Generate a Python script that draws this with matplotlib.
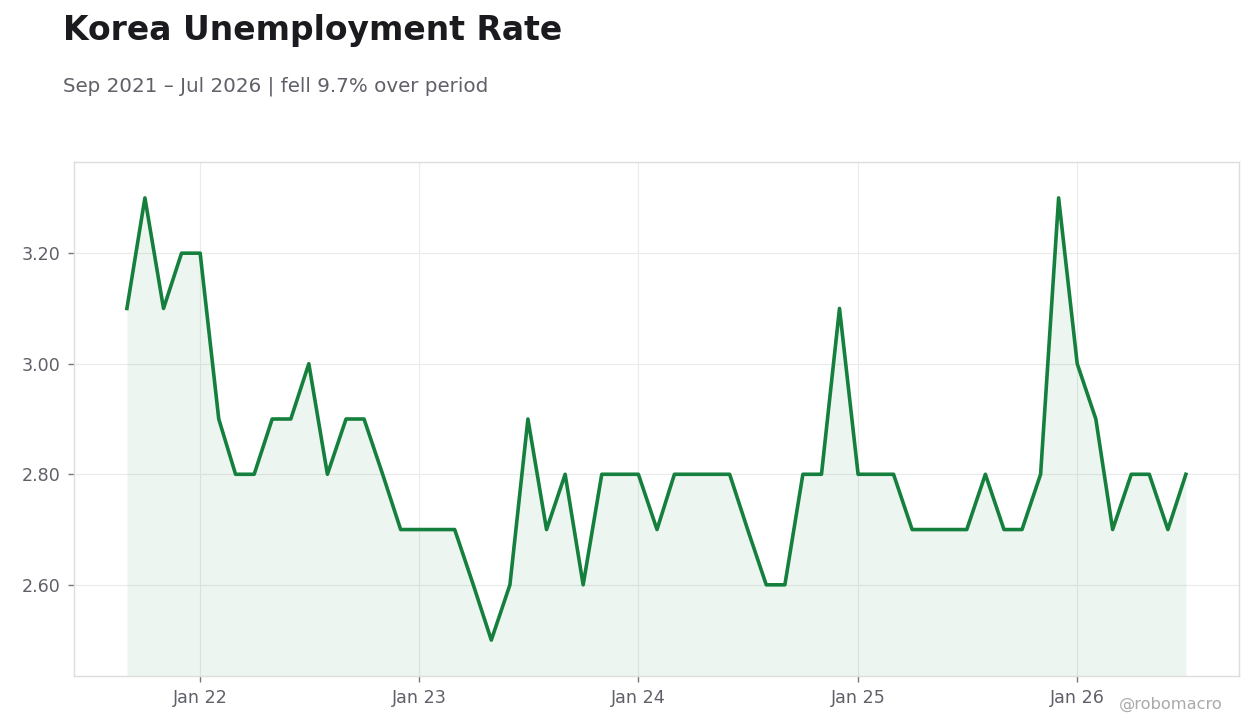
import pandas as pd
import matplotlib
matplotlib.use("Agg")
import matplotlib.pyplot as plt
import matplotlib.dates as mdates
from matplotlib.ticker import FormatStrFormatter

# monthly unemployment rate, Sep 2021 .. Jul 2026
dates = pd.date_range("2021-09-01", "2026-07-01", freq="MS")
rates = [
    3.1, 3.3, 3.1, 3.2,                                            # 2021 Sep-Dec
    3.2, 2.9, 2.8, 2.8, 2.9, 2.9, 3.0, 2.8, 2.9, 2.9, 2.8, 2.7,    # 2022
    2.7, 2.7, 2.7, 2.6, 2.5, 2.6, 2.9, 2.7, 2.8, 2.6, 2.8, 2.8,    # 2023
    2.8, 2.7, 2.8, 2.8, 2.8, 2.8, 2.7, 2.6, 2.6, 2.8, 2.8, 3.1,    # 2024
    2.8, 2.8, 2.8, 2.7, 2.7, 2.7, 2.7, 2.8, 2.7, 2.7, 2.8, 3.3,    # 2025
    3.0, 2.9, 2.7, 2.8, 2.8, 2.7, 2.8,                             # 2026 Jan-Jul
]

title = "Korea Unemployment Rate"
subtitle = "Sep 2021 \u2013 Jul 2026 | fell 9.7% over period"
credit = "@robomacro"

line_color = "#15803d"
y_bottom, y_top = 2.435, 3.365

fig = plt.figure(figsize=(12.6, 7.28), dpi=100)
ax = fig.add_axes([0.0587, 0.0714, 0.9245, 0.7061])

ax.plot(dates, rates, color=line_color, lw=2.6, zorder=3)
ax.fill_between(dates, rates, y_bottom, color=line_color, alpha=0.08, lw=0, zorder=2)

ax.set_ylim(y_bottom, y_top)
ax.margins(x=0.05)
ax.set_yticks([2.6, 2.8, 3.0, 3.2])
ax.yaxis.set_major_formatter(FormatStrFormatter("%.2f"))
ax.xaxis.set_major_locator(mdates.YearLocator())
ax.xaxis.set_major_formatter(mdates.DateFormatter("Jan %y"))

ax.grid(True, color="#ebebeb", lw=0.8, zorder=0)
for s in ax.spines.values():
    s.set_color("#dddddd")
    s.set_linewidth(1.0)
ax.tick_params(axis="both", colors="#5f6068", labelsize=12.6, length=4, width=1)
ax.tick_params(axis="x", pad=5)
ax.tick_params(axis="y", pad=5.5)
ax.tick_params(axis="both", color="#777777")

fig.text(0.05, 0.958, title, fontsize=23.8, fontweight="bold", color="#1a1a1f",
         va="center", ha="left")
fig.text(0.05, 0.882, subtitle, fontsize=14.3, color="#5f6068", va="center", ha="left")
fig.text(0.97, 0.032, credit, fontsize=11.7, color="#aaaaaa", va="center", ha="right")

fig.savefig("out.png", dpi=100)
